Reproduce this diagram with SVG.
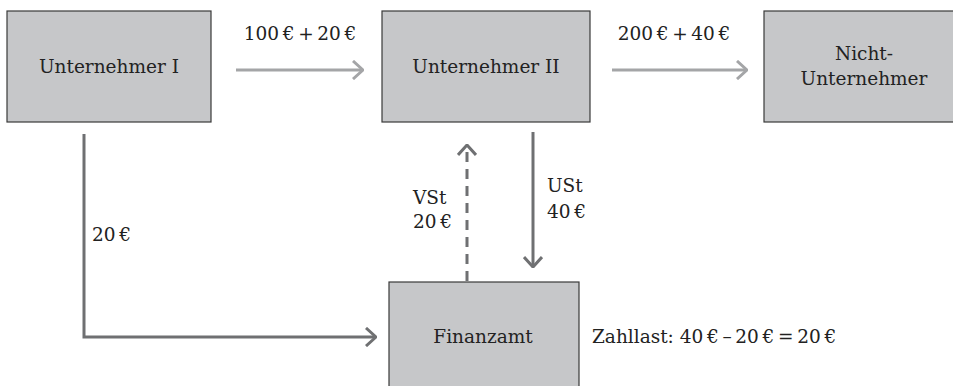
<svg xmlns="http://www.w3.org/2000/svg" width="953" height="386" viewBox="0 0 953 386">
<style>
.box{fill:#c6c7c9;stroke:#3a3a3a;stroke-width:1.2}
.t{font-family:"DejaVu Serif","Liberation Serif",serif;font-size:18.5px;fill:#222}
.m{text-anchor:middle}
.lt{fill:none;stroke:#a4a5a7;stroke-width:3}
.dk{fill:none;stroke:#6f7072;stroke-width:3}
</style>
<defs>
<marker id="ahL" viewBox="0 0 12 20" refX="11" refY="10" markerWidth="12" markerHeight="20" markerUnits="userSpaceOnUse" orient="auto">
<path d="M1,1 L11,10 L1,19" fill="none" stroke="#a4a5a7" stroke-width="3"/>
</marker>
<marker id="ahD" viewBox="0 0 12 20" refX="11" refY="10" markerWidth="12" markerHeight="20" markerUnits="userSpaceOnUse" orient="auto">
<path d="M1,1 L11,10 L1,19" fill="none" stroke="#6f7072" stroke-width="3"/>
</marker>
</defs>
<rect width="953" height="386" fill="#fff"/>
<g id="u1"><rect class="box" x="7" y="11" width="204" height="111"/><text class="t m" x="109" y="73">Unternehmer I</text></g>
<g id="u2"><rect class="box" x="382" y="11" width="208" height="111"/><text class="t m" x="486" y="73">Unternehmer II</text></g>
<g id="nu"><rect class="box" x="764" y="11" width="200" height="111"/><text class="t m" x="864" y="60">Nicht-</text><text class="t m" x="864" y="85">Unternehmer</text></g>
<g id="fa"><rect class="box" x="389" y="282" width="190" height="120"/><text class="t m" x="483" y="343">Finanzamt</text></g>
<g id="connectors">
<path class="lt" d="M236,70 H363" marker-end="url(#ahL)"/>
<path class="lt" d="M612,70 H747" marker-end="url(#ahL)"/>
<path class="dk" d="M84,134 V337 H376" marker-end="url(#ahD)"/>
<path class="dk" d="M533,132 V267" marker-end="url(#ahD)"/>
<path class="dk" d="M467,281 V145" stroke-dasharray="10,7" marker-end="url(#ahD)"/>
</g>
<g id="labels">
<text class="t m" x="300" y="40">100&#8201;€&#8201;+&#8201;20&#8201;€</text>
<text class="t m" x="674" y="40">200&#8201;€&#8201;+&#8201;40&#8201;€</text>
<text class="t" x="92" y="241">20&#8201;€</text>
<text class="t" x="413" y="204">VSt</text>
<text class="t" x="413" y="228">20&#8201;€</text>
<text class="t" x="547" y="192">USt</text>
<text class="t" x="547" y="218">40&#8201;€</text>
<text class="t" x="592" y="343">Zahllast: 40&#8201;€&#8201;–&#8201;20&#8201;€&#8201;=&#8201;20&#8201;€</text>
</g>
</svg>
